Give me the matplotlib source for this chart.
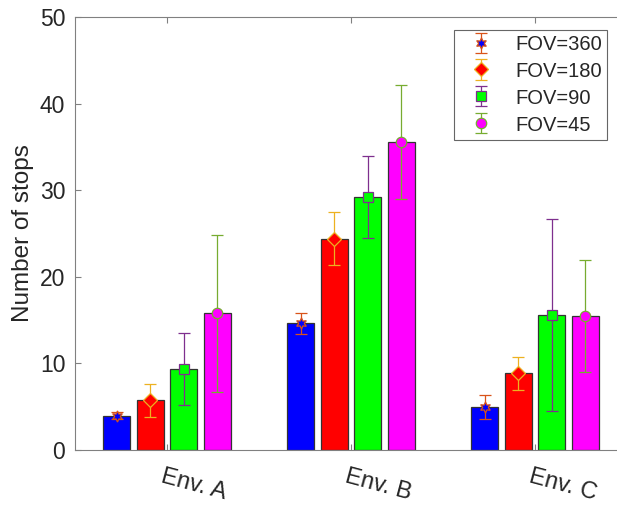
import numpy as np
import matplotlib
matplotlib.use("Agg")
import matplotlib.pyplot as plt
from matplotlib.transforms import ScaledTranslation

plt.rcParams["font.family"] = ["Liberation Sans", "DejaVu Sans"]

# data
envs = ["Env. A", "Env. B", "Env. C"]
series = ["FOV=360", "FOV=180", "FOV=90", "FOV=45"]
means = {
    "FOV=360": [3.95, 14.65, 5.0],
    "FOV=180": [5.75, 24.4, 8.85],
    "FOV=90": [9.4, 29.2, 15.6],
    "FOV=45": [15.8, 35.6, 15.45],
}
errs = {
    "FOV=360": [0.4, 1.2, 1.4],
    "FOV=180": [1.9, 3.05, 1.9],
    "FOV=90": [4.15, 4.7, 11.05],
    "FOV=45": [9.05, 6.6, 6.5],
}
yticks = [0, 10, 20, 30, 40, 50]

bar_colors = ["#0000ff", "#ff0000", "#00ff00", "#ff00ff"]
err_colors = ["#d95319", "#edb120", "#7e2f8e", "#77ac30"]
markers = [(6, 1, 0), "D", "s", "o"]
msizes = [8, 7, 6.5, 7.5]

fig = plt.figure(figsize=(6.17, 5.05), dpi=100)
ax = fig.add_axes([75 / 617, 55 / 505, 552 / 617, 433 / 505])

x = np.arange(1, len(envs) + 1)
step = 0.182
width = 0.146
for i, name in enumerate(series):
    xs = x + (i - 1.5) * step
    ax.bar(xs, means[name], width=width, color=bar_colors[i],
           edgecolor="#333333", linewidth=0.9, zorder=2)
    ax.errorbar(xs, means[name], yerr=errs[name], fmt="none", ecolor=err_colors[i],
                elinewidth=0.9, capsize=4, capthick=0.9, zorder=3)
    ax.plot(xs, means[name], linestyle="none", marker=markers[i], ms=msizes[i],
            mfc=bar_colors[i], mec=err_colors[i], mew=0.9, zorder=4)
    # legend proxy
    ax.errorbar([np.nan], [np.nan], yerr=[1], linestyle="none", marker=markers[i],
                ms=msizes[i], mfc=bar_colors[i], mec=err_colors[i], mew=0.9,
                ecolor=err_colors[i], elinewidth=0.9, capsize=4, capthick=0.9,
                label=name)

ax.set_xlim(0.5, 3.5)
ax.set_ylim(0, 50)
ax.set_yticks(yticks)
ax.set_xticks(x)
ax.set_xticklabels(envs)

ax.tick_params(axis="both", direction="in", length=4, width=0.8, colors="#808080",
               labelcolor="#262626", labelsize=16.5, top=True, right=True)
ax.tick_params(axis="y", pad=7)
ax.tick_params(axis="x", pad=11, labelsize=17)
off = ScaledTranslation(-3 / 100, 0, fig.dpi_scale_trans)
for lab in ax.get_xticklabels():
    lab.set_rotation(-15)
    lab.set_rotation_mode("anchor")
    lab.set_ha("left")
    lab.set_va("top")
    lab.set_transform(lab.get_transform() + off)

for s in ax.spines.values():
    s.set_color("#808080")
    s.set_linewidth(0.8)

ax.set_ylabel("Number of stops", fontsize=17.5, color="#262626", labelpad=4)

leg = ax.legend(loc="upper left", bbox_to_anchor=(454 / 617, 1 - 30 / 505),
                bbox_transform=fig.transFigure, numpoints=1, fontsize=14.5,
                frameon=True, fancybox=False, edgecolor="#404040",
                handlelength=2.2, handletextpad=0.6, borderpad=0.25,
                labelspacing=0.37, borderaxespad=0, handleheight=0.9)
leg.get_frame().set_linewidth(0.8)
for t in leg.get_texts():
    t.set_color("#262626")

fig.savefig("out.png", dpi=100)
